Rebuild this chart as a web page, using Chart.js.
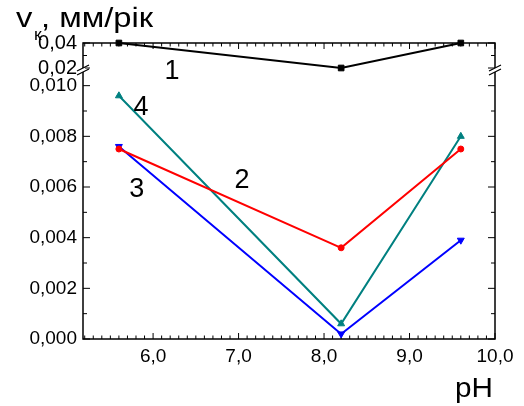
<!DOCTYPE html>
<html>
<head>
<meta charset="utf-8">
<script src="https://cdn.jsdelivr.net/npm/chart.js@4.4.1/dist/chart.umd.min.js"></script>
<style>
  html, body { margin:0; padding:0; background:#fff; }
</style>
</head>
<body>
<canvas id="chartPh" width="524" height="406"></canvas>
<script>
// data
const phValues = [5.6, 8.2, 9.6];
const curve1 = [0.04, 0.02, 0.04];
const curve2 = [0.0075, 0.0036, 0.0075];
const curve3 = [0.0076, 0.0002, 0.0039];
const curve4 = [0.0096, 0.0006, 0.0080];
const xTicks = [6, 7, 8, 9, 10];
const yTicksLow = [0, 0.002, 0.004, 0.006, 0.008, 0.010];
const yTicksHigh = [0.02, 0.04];

const FONT = '"Liberation Sans", Arial, sans-serif';

function pts(ys){ return phValues.map((x, i) => ({ x, y: ys[i] })); }
function comma(v, d){ return v.toFixed(d).replace(".", ","); }
function setTicks(list){ return s => { s.ticks = list.map(v => ({ value: v })); }; }

// text drawn a bit wider than the font, like the original
function wideText(ctx, t, x, y, font, sx){
  ctx.save();
  ctx.font = font;
  ctx.translate(x, y);
  ctx.scale(sx, 1);
  ctx.fillText(t, 0, 0);
  ctx.restore();
}

// frame, inner ticks, axis break and labels
const decor = {
  id: "decor",
  beforeDatasetsDraw(chart){
    const { ctx, chartArea:a, scales } = chart;
    const x = scales.x, y = scales.y, y2 = scales.y2;
    ctx.save();
    ctx.strokeStyle = "#000";
    ctx.lineWidth = 1.5;
    ctx.strokeRect(a.left, a.top, a.right - a.left, a.bottom - a.top);
    ctx.lineWidth = 1;
    ctx.beginPath();
    for(let i = 52; i <= 100; i++){
      const px = x.getPixelForValue(i / 10);
      const len = i % 10 === 0 ? 6 : 3.5;
      ctx.moveTo(px, a.bottom); ctx.lineTo(px, a.bottom - len);
      ctx.moveTo(px, a.top); ctx.lineTo(px, a.top + len);
    }
    for(let i = 0; i <= 10; i++){
      const py = y.getPixelForValue(i / 1000);
      const len = i % 2 === 0 ? 7 : 4;
      ctx.moveTo(a.left, py); ctx.lineTo(a.left + len, py);
      ctx.moveTo(a.right, py); ctx.lineTo(a.right - len, py);
    }
    [0.02, 0.03, 0.04].forEach((v, i) => {
      const py = y2.getPixelForValue(v);
      const len = i === 1 ? 4 : 7;
      ctx.moveTo(a.left, py); ctx.lineTo(a.left + len, py);
      ctx.moveTo(a.right, py); ctx.lineTo(a.right - len, py);
    });
    ctx.stroke();
    ctx.restore();
  },
  afterDraw(chart){
    const { ctx, chartArea:a, scales } = chart;
    const x = scales.x, y = scales.y;
    ctx.save();
    // axis break marks
    const by = y.top - 3;
    [a.left, a.right].forEach(bx => {
      ctx.fillStyle = "#fff";
      ctx.fillRect(bx - 2, by - 2, 4, 4);
      ctx.strokeStyle = "#000";
      ctx.lineWidth = 1.2;
      ctx.beginPath();
      ctx.moveTo(bx - 6, by + 1); ctx.lineTo(bx + 6, by - 5);
      ctx.moveTo(bx - 6, by + 5); ctx.lineTo(bx + 6, by - 1);
      ctx.stroke();
    });
    ctx.fillStyle = "#000";
    // curve numbers
    ctx.font = "27px " + FONT;
    ctx.textAlign = "center";
    ctx.textBaseline = "middle";
    [["1", 6.22, 0.01055], ["2", 7.04, 0.00625], ["3", 5.81, 0.00589], ["4", 5.86, 0.00913]]
      .forEach(([t, px, py]) => ctx.fillText(t, x.getPixelForValue(px), y.getPixelForValue(py)));
    // axis titles
    ctx.textAlign = "left";
    ctx.textBaseline = "alphabetic";
    wideText(ctx, "v", 16, 27, "28px " + FONT, 1.17);
    wideText(ctx, "к", 34, 40, "16px " + FONT, 1.1);
    wideText(ctx, ", мм/рік", 41, 27, "28px " + FONT, 1.17);
    wideText(ctx, "pH", 455, 397, "28px " + FONT, 1.06);
    ctx.restore();
  }
};

const ds = (data, color, style, radius, axis, rot) => ({
  data: pts(data),
  borderColor: color,
  backgroundColor: color,
  borderWidth: 2,
  pointStyle: style,
  pointRadius: radius,
  pointRotation: rot || 0,
  pointBorderWidth: 1,
  yAxisID: axis,
  clip: false
});

new Chart(document.getElementById("chartPh"), {
  type: "line",
  data: {
    datasets: [
      ds(curve1, "#000000", "rect", 4, "y2"),
      ds(curve2, "#ff0000", "circle", 3, "y"),
      ds(curve4, "#008080", "triangle", 4, "y"),
      ds(curve3, "#0000ff", "triangle", 4, "y", 180)
    ]
  },
  options: {
    responsive: false,
    animation: false,
    devicePixelRatio: 1,
    layout: { padding: { left: 0, right: 29, top: 43, bottom: 0 } },
    plugins: { legend: { display: false }, tooltip: { enabled: false } },
    scales: {
      x: {
        type: "linear", min: 5.18, max: 10,
        afterBuildTicks: setTicks(xTicks),
        afterFit: s => { s.height = 67; },
        grid: { display: false, drawTicks: false },
        border: { display: false },
        ticks: { padding: 6, color: "#000", font: { size: 19, family: FONT },
                 callback: v => comma(v, 1), maxRotation: 0, autoSkip: false }
      },
      y: {
        type: "linear", min: 0, max: 0.0105,
        stack: "v", stackWeight: 266, position: "left",
        afterBuildTicks: setTicks(yTicksLow),
        afterFit: s => { s.width = 83; },
        grid: { display: false, drawTicks: false },
        border: { display: false },
        ticks: { padding: 6, color: "#000", font: { size: 19, family: FONT },
                 callback: v => comma(v, 3), autoSkip: false }
      },
      y2: {
        type: "linear", min: 0.016, max: 0.04,
        stack: "v", stackWeight: 30, position: "left",
        afterBuildTicks: setTicks(yTicksHigh),
        afterFit: s => { s.width = 83; },
        grid: { display: false, drawTicks: false },
        border: { display: false },
        ticks: { padding: 6, color: "#000", font: { size: 20, family: FONT },
                 callback: v => comma(v, 2), autoSkip: false }
      }
    }
  },
  plugins: [decor]
});
</script>
</body>
</html>
